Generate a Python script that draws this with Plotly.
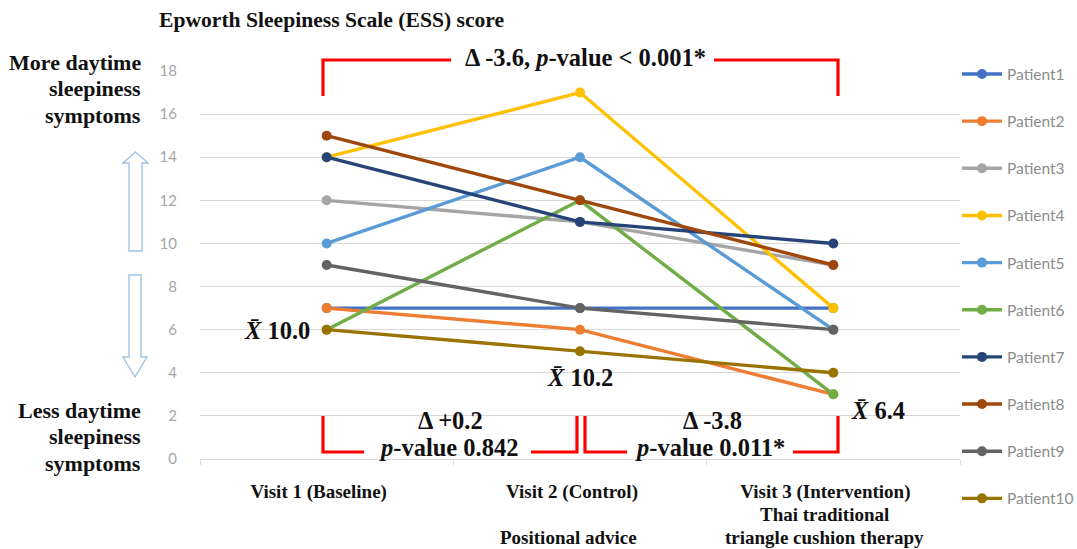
import plotly.graph_objects as go

# ---------------- data ----------------
visits = ["Visit 1 (Baseline)", "Visit 2 (Control)", "Visit 3 (Intervention)"]
visit_sublabels = [[], ["", "Positional advice"], ["Thai traditional", "triangle cushion therapy"]]
patients = ["Patient1", "Patient2", "Patient3", "Patient4", "Patient5",
            "Patient6", "Patient7", "Patient8", "Patient9", "Patient10"]
p1 = [7, 7, 7]
p2 = [7, 6, 3]
p3 = [12, 11, 9]
p4 = [14, 17, 7]
p5 = [10, 14, 6]
p6 = [6, 12, 3]
p7 = [14, 11, 10]
p8 = [15, 12, 9]
p9 = [9, 7, 6]
p10 = [6, 5, 4]
scores = [p1, p2, p3, p4, p5, p6, p7, p8, p9, p10]
colors = ["#4472C4", "#ED7D31", "#A5A5A5", "#FFC000", "#5B9BD5",
          "#70AD47", "#264478", "#9E480E", "#636363", "#997300"]
y_ticks = [0, 2, 4, 6, 8, 10, 12, 14, 16, 18]
means = ["10.0", "10.2", "6.4"]
delta_overall = "-3.6"
p_overall = "< 0.001*"
delta_12, p_12 = "+0.2", "0.842"
delta_23, p_23 = "-3.8", "0.011*"

# ---------------- layout geometry (pixels) ----------------
W, H = 1077, 549
L, R, T, B = 200, 960, 71, 459


def fx(x):
    return (x - L) / (R - L)


def fy(y):
    return (B - y) / (B - T)


SERIF = "Liberation Serif"
SANS = "Lato"

fig = go.Figure()
for name, vals, col in zip(patients, scores, colors):
    fig.add_trace(go.Scatter(
        x=visits, y=vals, name=name, legendgroup=name,
        mode="lines+markers",
        line=dict(color=col, width=3.4),
        marker=dict(color=col, size=10),
    ))

shapes = []


def path(points, color="#FF0000", width=3.2, fill=None):
    d = ""
    for i, (x, y) in enumerate(points):
        d += ("M" if i == 0 else "L") + f"{fx(x):.5f},{fy(y):.5f} "
    if fill:
        d += "Z"
    s = dict(type="path", xref="paper", yref="paper", path=d,
             line=dict(color=color, width=width))
    if fill:
        s["fillcolor"] = fill
    shapes.append(s)


# red brackets
path([(323, 96), (323, 60), (451, 60)])
path([(714, 60), (838, 60), (838, 96)])
path([(323, 416), (323, 452), (364, 452)])
path([(531, 452), (577, 452), (577, 416)])
path([(585, 416), (585, 452), (627, 452)])
path([(793, 452), (838, 452), (838, 416)])

# hollow arrows
ac = "#9DC3E6"
path([(135.5, 152), (148, 163), (142, 163), (142, 251), (129, 251), (129, 163), (123, 163)],
     color=ac, width=1.4, fill="rgba(255,255,255,0)")
path([(129, 275), (141, 275), (141, 357), (147, 357), (135, 377), (123, 357), (129, 357)],
     color=ac, width=1.4, fill="rgba(255,255,255,0)")

ann = []


def text(t, x, y, size=21, xanchor="center", align="center"):
    ann.append(dict(text=t, x=fx(x), y=fy(y), xref="paper", yref="paper",
                    xanchor=xanchor, yanchor="middle", showarrow=False, align=align,
                    font=dict(family=SERIF, size=size, color="#111111")))


text("<b>Epworth Sleepiness Scale (ESS) score</b>", 157, 20, size=21.6, xanchor="left")
for i, line in enumerate(["More daytime", "sleepiness", "symptoms"]):
    text(f"<b>{line}</b>", 143, 62 + 26.5 * i, size=22, xanchor="right")
for i, line in enumerate(["Less daytime", "sleepiness", "symptoms"]):
    text(f"<b>{line}</b>", 143, 410 + 26.5 * i, size=22, xanchor="right")

text(f"<b>Δ {delta_overall}, <i>p</i>-value {p_overall.replace('<', '&lt;')}</b>", 585, 58, size=24.5)
text(f"<b>Δ {delta_12}</b>", 450, 420, size=24.5)
text(f"<b><i>p</i>-value {p_12}</b>", 448, 447, size=24.5)
text(f"<b>Δ {delta_23}</b>", 712, 420, size=24.5)
text(f"<b><i>p</i>-value {p_23}</b>", 710, 447, size=24.5)

xbar = "<i>X\u0304</i>"
text(f"<b>{xbar} {means[0]}</b>", 277, 330, size=24.5)
text(f"<b>{xbar} {means[1]}</b>", 580, 377, size=24.5)
text(f"<b>{xbar} {means[2]}</b>", 878, 410, size=24.5)

# x sub labels
sub_x = [316, 568, 824]
for cx, subs in zip(sub_x, visit_sublabels):
    for j, s in enumerate(subs):
        if s:
            text(f"<b>{s}</b>", cx, 514 + 23.5 * j, size=19)

fig.update_layout(
    width=W, height=H,
    margin=dict(l=L, r=W - R, t=T, b=H - B, pad=0, autoexpand=False),
    plot_bgcolor="white", paper_bgcolor="white",
    showlegend=True,
    legend=dict(x=1.0 - 3 / (R - L), xanchor="left", y=1.035, yanchor="top",
                font=dict(family=SANS, size=15.5, color="#8C8C8C"),
                tracegroupgap=24, itemwidth=40, maxheight=1.0,
                bgcolor="rgba(0,0,0,0)"),
    shapes=shapes,
    annotations=ann,
    xaxis=dict(
        type="category", categoryorder="array", categoryarray=visits,
        range=[-0.5, 2.5], tickson="boundaries",
        showgrid=False, showline=True, linecolor="#D9D9D9", linewidth=1.3,
        ticks="outside", ticklen=5, tickcolor="#D9D9D9",
        tickvals=visits, ticktext=[f"<b>{v}</b>" for v in visits],
        tickfont=dict(family=SERIF, size=19, color="#111111"),
        ticklabelstandoff=15, ticklabelshift=-8,
        zeroline=False, fixedrange=True,
    ),
    yaxis=dict(
        range=[0, 18], tickvals=y_ticks, showgrid=True,
        gridcolor="#D9D9D9", gridwidth=1.3, zeroline=False, showline=False,
        tickfont=dict(family=SANS, size=15, color="#A6A6A6"),
        ticklabelstandoff=22, fixedrange=True,
    ),
)

fig.write_html("out.html", config={"displayModeBar": False},
               post_script="document.body.style.margin='0';")
